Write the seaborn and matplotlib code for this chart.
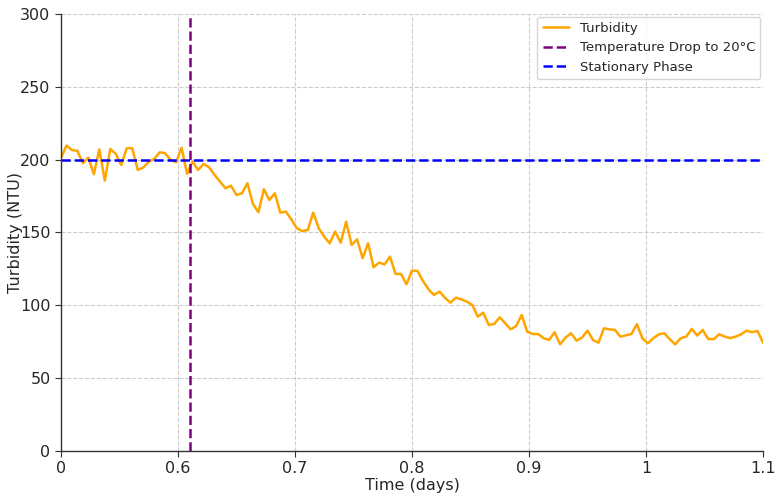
import numpy as np
import pandas as pd
import matplotlib
matplotlib.use("Agg")
import matplotlib.pyplot as plt
import seaborn as sns

# turbidity readings (NTU), evenly spaced in time
turbidity = [
    201, 209.6, 206.6, 206, 197.5, 201.4, 190, 207, 185.6, 207.3,
    203.9, 196.3, 207.8, 207.8, 192.9, 194.5, 198.6, 200.4, 205, 204.4,
    199.8, 198.2, 208.2,
    190.2, 198.6, 192.9, 197, 194.8, 189.5, 184.9, 180.3, 182.1, 175.7,
    176.9, 183.8, 169.6, 163.9, 179.7, 172.3, 176.9, 163.6, 164.3, 159,
    152.9, 151,
    151.7, 163.6, 152.9, 147.1, 142.6, 150.6, 143, 157.4, 141.4, 145.3,
    132.3, 142.6, 126.1, 129.3, 128.1, 133.4, 121.5, 121.5, 114.4, 123.8,
    123.6, 116.7,
    111, 107.1, 109.4, 105.2, 101.8, 105.2, 104.1, 102.5, 100.2, 92.2,
    94.9, 86.5, 87.2, 91.8, 87.7, 83.5, 85.8, 93.4, 81.9, 80.3,
    80.3, 77.4,
    76.2, 81.5, 73.2, 77.8, 80.8, 75.7, 77.8, 82.6, 76.2, 74.3,
    84.2, 83.5, 83.1, 78.5, 79.4, 80.3, 87, 77.4, 73.9, 77.4,
    80.1, 80.8,
    76.7, 73.2, 77.4, 78.5, 83.8, 79.2, 83.1, 76.9, 76.7, 80.1,
    78.5, 77.4, 78.5, 80.1, 82.6, 81.5, 82.4, 74.3,
]
t_start, t_end = 0.5, 1.1
drop_time = 0.61
stationary_level = 200
xtick_vals = [0.5, 0.6, 0.7, 0.8, 0.9, 1.0, 1.1]
xtick_labels = ["0", "0.6", "0.7", "0.8", "0.9", "1", "1.1"]

df = pd.DataFrame({
    "time": np.linspace(t_start, t_end, len(turbidity)),
    "turbidity": turbidity,
})

sns.set_style("whitegrid", {"grid.linestyle": "--", "grid.color": "#cccccc"})
plt.rcParams["font.family"] = ["DejaVu Sans"]

fig = plt.figure(figsize=(7.81, 4.97), dpi=100)
ax = fig.add_axes([0.078, 0.0926, 0.899, 0.8794])

sns.lineplot(data=df, x="time", y="turbidity", ax=ax, color="orange",
             linewidth=1.8, label="Turbidity")
ax.axvline(drop_time, color="purple", linestyle="--", linewidth=1.8,
           label="Temperature Drop to 20°C")
ax.axhline(stationary_level, color="blue", linestyle="--", linewidth=1.8,
           label="Stationary Phase")

ax.set_xlim(t_start, t_end)
ax.set_ylim(0, 300)
ax.set_xticks(xtick_vals)
ax.set_xticklabels(xtick_labels)
ax.set_yticks(range(0, 301, 50))
ax.tick_params(labelsize=11.5, length=4, color="#333333", bottom=True, left=True)
ax.grid(True, linestyle="--", color="#cccccc", linewidth=0.8)
ax.set_xlabel("Time (days)", fontsize=11.5, labelpad=1)
ax.set_ylabel("Turbidity (NTU)", fontsize=11.5, labelpad=-2)

for side in ["top", "right"]:
    ax.spines[side].set_visible(False)
for side in ["left", "bottom"]:
    ax.spines[side].set_color("#333333")
    ax.spines[side].set_linewidth(1.0)

ax.legend(loc="upper right", fontsize=9.5, frameon=True, borderaxespad=0.2)

fig.savefig("out.png", dpi=100)
